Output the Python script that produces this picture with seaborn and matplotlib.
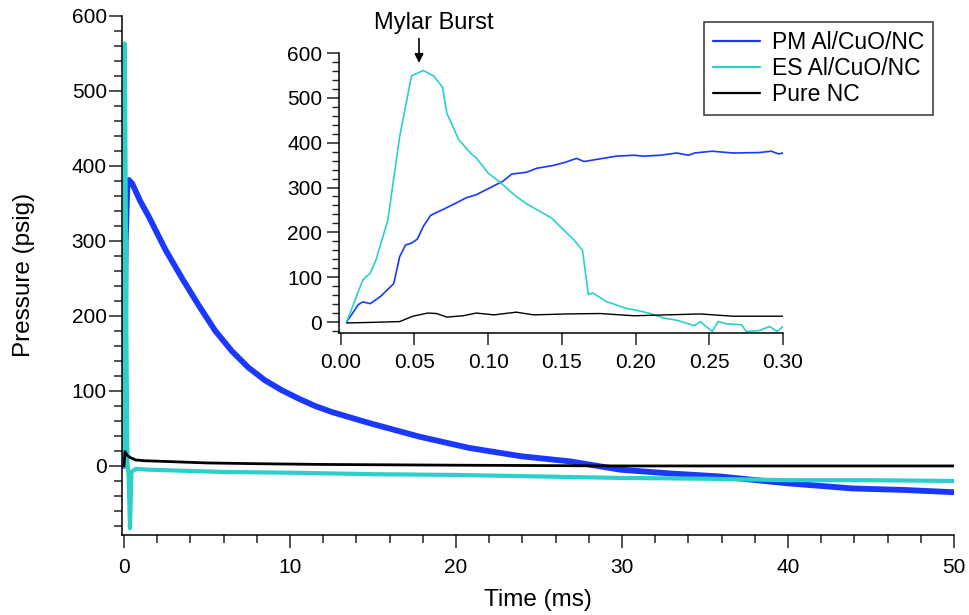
import matplotlib
matplotlib.use("Agg")
import matplotlib.pyplot as plt
import seaborn as sns
from matplotlib.ticker import MultipleLocator, FormatStrFormatter

# ---------------- data ----------------
# main panel, time in ms, pressure in psig
pm_t = [0, 0.1, 0.2, 0.3, 0.5, 1.0, 1.5, 2.5, 3.5, 4.5, 5.5, 6.5, 7.5, 8.5, 9.5,
        10.5, 11.5, 12.5, 14.8, 17.8, 20.8, 23.9, 26.9, 29.9, 32.9, 35.9, 39.9,
        43.9, 47.0, 50.0]
pm_p = [0, 299, 372, 381, 376, 352, 332, 288, 250, 214, 180, 153, 131, 114, 101,
        90, 80, 72, 57, 39, 24, 13, 6, -5, -10, -14, -23, -30, -32, -35]

es_t = [0, 0.055, 0.15, 0.21, 0.28, 0.36, 0.45, 0.7, 1.5, 3, 6, 10, 15, 20, 25,
        30, 35, 40, 45, 50]
es_p = [0, 563, 160, 5, -15, -83, -8, -4, -5, -6, -8, -9, -11, -12, -14,
        -16, -17, -19, -19, -20]

nc_t = [0, 0.06, 0.2, 0.4, 0.7, 1.2, 2.5, 5, 8, 12, 20, 30, 40, 50]
nc_p = [0, 19, 14, 11, 8, 7, 6, 4, 3, 2, 1, 0, 0, 0]

# inset panel (first 0.30 ms)
pm_in_t = [0.004, 0.012, 0.015, 0.020, 0.027, 0.036, 0.040, 0.044, 0.048, 0.052,
           0.056, 0.061, 0.070, 0.078, 0.085, 0.092, 0.101, 0.110, 0.116, 0.126,
           0.133, 0.144, 0.152, 0.160, 0.165, 0.176, 0.187, 0.199, 0.205, 0.217,
           0.228, 0.236, 0.240, 0.252, 0.266, 0.284, 0.292, 0.297, 0.300]
pm_in_p = [0, 39, 45, 41, 57, 86, 146, 172, 176, 185,
           213, 238, 252, 265, 277, 284, 299, 314, 330, 334,
           343, 349, 356, 365, 358, 364, 370, 372, 370, 372,
           377, 372, 377, 381, 377, 378, 381, 375, 377]

es_in_t = [0.004, 0.015, 0.020, 0.024, 0.032, 0.040, 0.048, 0.056, 0.063, 0.069,
           0.072, 0.080, 0.083, 0.088, 0.092, 0.100, 0.108, 0.119, 0.127, 0.135,
           0.143, 0.151, 0.158, 0.164, 0.168, 0.171, 0.180, 0.193, 0.201, 0.210,
           0.219, 0.228, 0.240, 0.244, 0.252, 0.256, 0.262, 0.272, 0.275, 0.284,
           0.291, 0.296, 0.300]
es_in_p = [0, 94, 109, 139, 228, 414, 549, 561, 549, 524,
           466, 407, 396, 377, 366, 332, 312, 280, 262, 247,
           232, 206, 184, 160, 61, 65, 46, 31, 26, 19,
           9, 4, -8, 1, -21, 1, -4, -6, -21, -19,
           -10, -21, -10]

nc_in_t = [0.004, 0.018, 0.040, 0.049, 0.059, 0.065, 0.072, 0.083, 0.092, 0.104,
           0.119, 0.131, 0.153, 0.176, 0.199, 0.221, 0.244, 0.266, 0.300]
nc_in_p = [-2, -1, 1, 13, 20, 19, 11, 14, 20, 16,
           22, 16, 18, 19, 14, 16, 18, 13, 13]

labels = ["PM Al/CuO/NC", "ES Al/CuO/NC", "Pure NC"]
x_label = "Time (ms)"
y_label = "Pressure (psig)"
note = "Mylar Burst"

# ---------------- style ----------------
sns.set_style("ticks")
plt.rcParams["font.family"] = ["Liberation Sans", "DejaVu Sans"]
plt.rcParams["axes.linewidth"] = 1.1
for key in ["text.color", "axes.labelcolor", "xtick.color", "ytick.color",
            "axes.edgecolor"]:
    plt.rcParams[key] = "black"

BLUE = "#1A38FF"
CYAN = "#2CCFC9"
BLACK = "#000000"

fig = plt.figure(figsize=(9.69, 6.15), dpi=100)

# ---------------- main axes ----------------
ax = fig.add_axes([0.1259, 0.1301, 0.8586, 0.8444])
sns.lineplot(x=pm_t, y=pm_p, ax=ax, color=BLUE, lw=4.2, estimator=None, sort=False)
sns.lineplot(x=es_t, y=es_p, ax=ax, color=CYAN, lw=3.0, estimator=None, sort=False)
sns.lineplot(x=nc_t, y=nc_p, ax=ax, color=BLACK, lw=2.0, estimator=None, sort=False)

ax.set_xlim(-0.12, 50)
ax.set_ylim(-92, 600)
ax.xaxis.set_major_locator(MultipleLocator(10))
ax.xaxis.set_minor_locator(MultipleLocator(2))
ax.set_yticks([0, 100, 200, 300, 400, 500, 600])
ax.yaxis.set_minor_locator(MultipleLocator(20))
ax.tick_params(axis="both", which="major", length=9.4, width=1.1, labelsize=15,
               color="#222222")
ax.tick_params(axis="x", which="major", pad=7)
ax.tick_params(axis="y", which="major", pad=1.5)
ax.tick_params(axis="both", which="minor", length=5.5, width=1.1, color="#222222")
sns.despine(ax=ax)
ax.set_xlabel(x_label, fontsize=17.5)
ax.set_ylabel(y_label, fontsize=17.5)
ax.xaxis.set_label_coords(0.5, -0.104)
ax.yaxis.set_label_coords(-0.105, 0.5)

# ---------------- inset ----------------
ax_in = fig.add_axes([0.3498, 0.4585, 0.4582, 0.4553])
ax_in.set_facecolor("none")
sns.lineplot(x=pm_in_t, y=pm_in_p, ax=ax_in, color=BLUE, lw=1.2,
             estimator=None, sort=False, label=labels[0])
sns.lineplot(x=es_in_t, y=es_in_p, ax=ax_in, color=CYAN, lw=1.2,
             estimator=None, sort=False, label=labels[1])
sns.lineplot(x=nc_in_t, y=nc_in_p, ax=ax_in, color=BLACK, lw=1.0,
             estimator=None, sort=False, label=labels[2])

ax_in.set_xlim(-0.0012, 0.30)
ax_in.set_ylim(-24.5, 600)
ax_in.xaxis.set_major_locator(MultipleLocator(0.05))
ax_in.xaxis.set_major_formatter(FormatStrFormatter("%.2f"))
ax_in.set_yticks([0, 100, 200, 300, 400, 500, 600])
ax_in.yaxis.set_minor_locator(MultipleLocator(20))
ax_in.tick_params(axis="both", which="major", length=8.6, width=1.1, labelsize=15,
                  color="#222222")
ax_in.tick_params(axis="x", which="major", pad=6)
ax_in.tick_params(axis="y", which="major", pad=3.5)
ax_in.tick_params(axis="y", which="minor", length=5, width=1.0, color="#222222")
sns.despine(ax=ax_in)
ax_in.set_xlabel("")
ax_in.set_ylabel("")

ax_in.annotate("", xy=(0.0531, 578), xytext=(0.0531, 632),
               arrowprops=dict(arrowstyle="-|>", color="black", lw=1.2,
                               mutation_scale=13, shrinkA=0, shrinkB=0),
               annotation_clip=False)
ax_in.text(0.0633, 668, note, ha="center", va="center", fontsize=17)

leg = ax_in.legend(loc="upper right", bbox_to_anchor=(933 / 969, 1 - 22 / 615),
                   bbox_transform=fig.transFigure, borderaxespad=0,
                   fontsize=16.5, frameon=True, fancybox=False, framealpha=1,
                   edgecolor="#333333", handlelength=2.05, handletextpad=0.5,
                   labelspacing=0.12, borderpad=0.4)
leg.get_frame().set_linewidth(1.1)
for line in leg.get_lines():
    line.set_linewidth(1.6)

fig.savefig("out.png", dpi=100)
